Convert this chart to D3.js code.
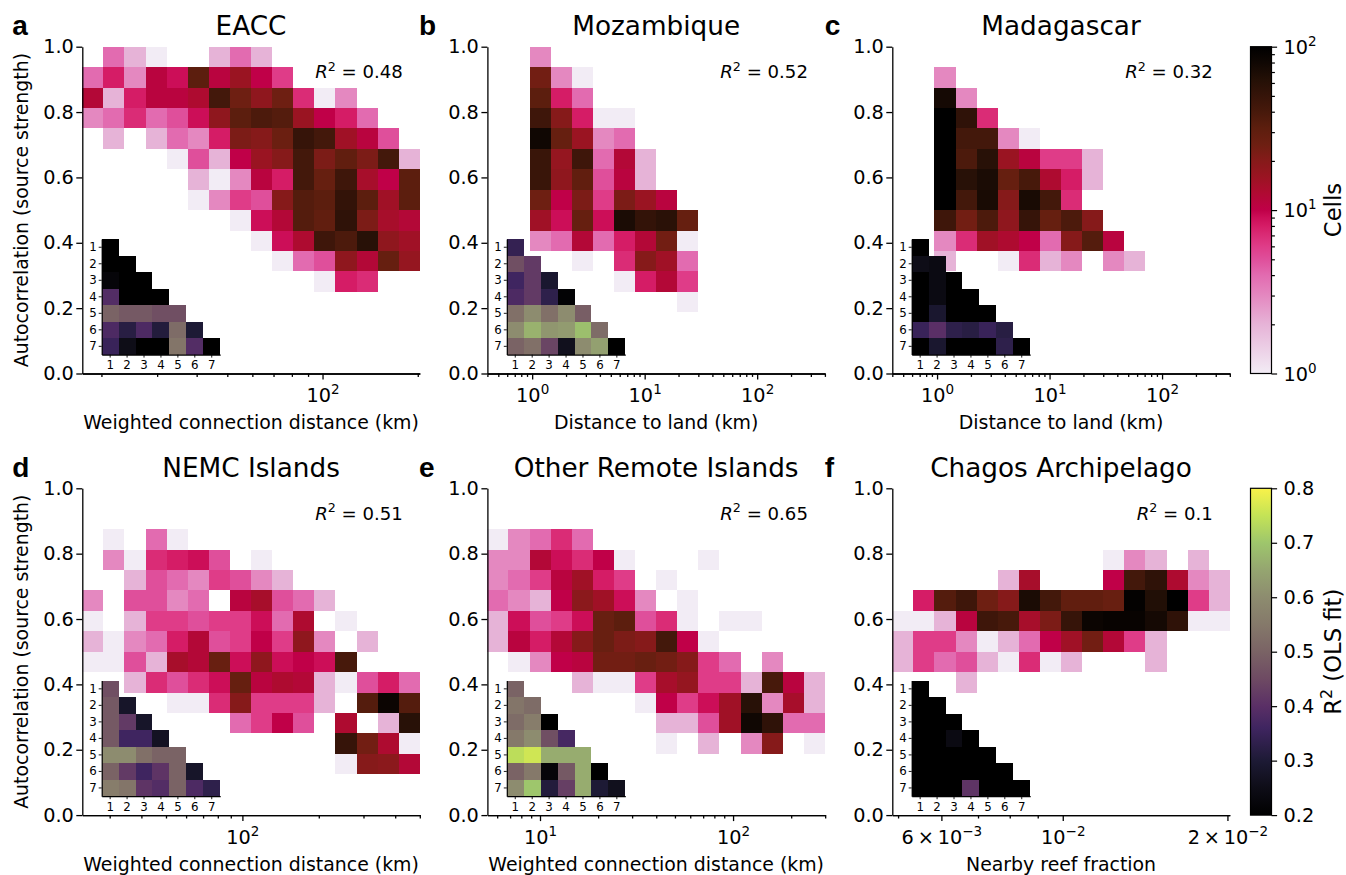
<!DOCTYPE html>
<html>
<head>
<meta charset="utf-8">
<script src="https://cdn.jsdelivr.net/npm/d3@7"></script>
<style>
html, body {margin: 0; padding: 0; background: #fff;}
svg {display: block;}
text {font-family: "DejaVu Sans", sans-serif; fill: #000;}
</style>
</head>
<body>
<script>
// cell counts per bin, top row (y = 1.0) first, 16 columns wide, 0 = empty
var eaccCells = [
[0,4,2,1,0,0,2,4,2],
[4,8,3,11,9,32,11,16,10,6],
[12,2,8,11,11,13,42,25,18,25,7,1,3],
[3,4,7,4,5,9,18,32,38,35,16,10,8,4],
[0,2,0,2,4,3,8,22,20,26,50,42,15,11,5],
[0,0,0,0,1,5,2,10,16,20,42,22,30,22,42,2],
[0,0,0,0,0,2,1,3,11,8,42,28,45,14,10,32],
[0,0,0,0,0,1,3,6,5,20,35,32,52,32,15,32],
[0,0,0,0,0,0,0,1,9,12,35,30,55,22,14,12],
[0,0,0,0,0,0,0,0,1,9,13,45,38,60,18,15],
[0,0,0,0,0,0,0,0,0,1,4,5,18,12,28,17],
[0,0,0,0,0,0,0,0,0,0,0,1,8,7]
];
var mozambiqueCells = [
[0,0,3],
[0,0,24,3,1],
[0,0,32,8,4],
[0,0,45,20,8,1,1],
[0,0,80,28,16,3,4],
[0,0,48,17,45,4,12,2],
[0,0,48,18,30,5,11,2],
[0,0,25,10,22,6,22,16,11],
[0,0,15,9,28,9,70,52,58,28],
[0,0,3,4,12,4,8,12,24,1],
[0,0,0,0,1,0,7,20,15,4],
[0,0,0,0,0,0,1,8,12,6],
[0,0,0,0,0,0,0,0,0,1]
];
var madagascarCells = [
[],
[0,0,3],
[0,0,75,3],
[0,0,100,55,7],
[0,0,100,42,42,3,1],
[0,0,100,38,60,16,11,6,6,2],
[0,0,100,60,70,28,40,13,8,2],
[0,0,100,42,72,20,72,42,7],
[0,0,45,24,38,18,50,28,38,20],
[0,0,3,7,15,13,10,4,20,35,11],
[0,0,2,0,0,1,7,2,3,0,3,2]
];
var nemcCells = [
[],
[],
[0,1,0,4,1],
[0,3,1,7,8,9,5,0,1],
[0,0,2,5,4,3,6,5,3,2],
[3,0,5,5,3,4,0,11,14,5,4,2],
[1,0,2,6,6,5,6,6,9,4,13,0,1],
[2,1,3,4,8,12,5,6,10,6,18,3,0,2],
[1,1,5,2,14,12,27,9,18,9,10,9,40],
[0,0,2,7,5,7,9,28,11,13,12,2,1,5,8,4],
[0,0,0,0,1,1,7,20,6,6,6,2,0,35,85,35],
[0,0,0,0,0,0,0,4,6,10,5,0,13,0,2,60],
[0,0,0,0,0,0,0,0,0,0,0,0,50,24,13,1],
[0,0,0,0,0,0,0,0,0,0,0,0,1,20,19,12]
];
var remoteCells = [
[],
[],
[1,3,4,7,4],
[3,3,12,9,7,10,1,0,0,0,1],
[3,4,6,11,15,8,6,0,1],
[4,3,2,10,19,15,9,3,0,1],
[2,9,5,6,9,27,32,5,7,1,0,1,1],
[2,11,8,12,20,27,22,20,42,10,1],
[0,1,3,10,11,24,24,27,24,20,6,4,0,3],
[0,0,0,0,2,1,1,6,14,17,6,6,2,40,11,2],
[0,0,0,0,0,0,0,1,10,6,9,15,60,3,14,2],
[0,0,0,0,0,0,0,0,2,2,5,15,80,55,4,4],
[0,0,0,0,0,0,0,0,1,0,2,0,3,20,0,1]
];
var chagosCells = [
[],
[],
[],
[0,0,0,0,0,0,0,0,0,0,1,3,2,0,2],
[0,0,0,0,0,2,14,0,0,0,10,42,55,13,3,2],
[0,8,35,45,25,20,70,42,30,30,27,95,65,100,6,2],
[1,1,2,11,45,40,14,22,50,85,90,90,75,55,1,1],
[2,6,6,3,1,2,4,10,15,24,12,6,2],
[2,6,4,5,2,1,7,1,2,0,0,0,2],
[0,0,0,2]
];

// R2 of the OLS fit for the inset triangles
var eaccR2 = [
[.2],
[.2,.2],
[.22,.2,.2],
[.39,.2,.2,.2],
[.5,.48,.48,.46,.46],
[.38,.32,.38,.31,.52,.3],
[.35,.25,.2,.2,.54,.39,.2]
];
var mozambiqueR2 = [
[.34],
[.46,.42],
[.36,.42,.29],
[.38,.42,.33,.21],
[.53,.6,.53,.6,.49],
[.6,.67,.62,.63,.69,.52],
[.5,.53,.44,.26,.6,.64,.2]
];
var madagascarR2 = [
[.2],
[.25,.24],
[.2,.24,.2],
[.2,.24,.2,.2],
[.2,.29,.2,.2,.2],
[.35,.4,.33,.32,.35,.32],
[.2,.29,.2,.2,.2,.33,.2]
];
var nemcR2 = [
[.46],
[.48,.28],
[.48,.42,.28],
[.48,.36,.36,.27],
[.6,.6,.53,.5,.5],
[.5,.42,.36,.41,.5,.28],
[.56,.54,.41,.39,.5,.38,.33]
];
var remoteR2 = [
[.5],
[.54,.52],
[.52,.56,.2],
[.55,.6,.46,.37],
[.74,.76,.66,.66,.66],
[.5,.55,.22,.48,.66,.2],
[.6,.7,.31,.43,.66,.3,.26]
];
var chagosR2 = [
[.2],
[.2,.2],
[.2,.2,.2],
[.2,.2,.24,.2],
[.2,.2,.2,.2,.2],
[.2,.2,.2,.2,.2,.2],
[.2,.2,.2,.41,.2,.2,.2]
];

var titles = ["EACC","Mozambique","Madagascar","NEMC Islands","Other Remote Islands","Chagos Archipelago"];
var letters = ["a","b","c","d","e","f"];
var fitR2 = ["0.48","0.52","0.32","0.51","0.65","0.1"];
var xLabels = ["Weighted connection distance (km)","Distance to land (km)","Distance to land (km)",
	"Weighted connection distance (km)","Weighted connection distance (km)","Nearby reef fraction"];
var xDomains = [[17.4,203],[0.4,400],[0.4,400],[23.4,500],[5.34,299],[0.00488,0.0202]];
var xMajor = [[100],[1,10,100],[1,10,100],[100],[10,100],[0.006,0.01,0.02]];
var xMinor = [
	[20,30,40,50,60,70,80,90,200],
	[.4,.5,.6,.7,.8,.9,2,3,4,5,6,7,8,9,20,30,40,50,60,70,80,90,200,300,400],
	[.4,.5,.6,.7,.8,.9,2,3,4,5,6,7,8,9,20,30,40,50,60,70,80,90,200,300,400],
	[30,40,50,60,70,80,90,200,300,400,500],
	[6,7,8,9,20,30,40,50,60,70,80,90,200,300],
	[0.005,0.007,0.008,0.009]
];
var xTickText = [
	[["10","2"]],
	[["10","0"],["10","1"],["10","2"]],
	[["10","0"],["10","1"],["10","2"]],
	[["10","2"]],
	[["10","1"],["10","2"]],
	[["6\u2009\u00d7\u200910","\u22123"],["10","\u22122"],["2\u2009\u00d7\u200910","\u22122"]]
];
var yTicks = [0,0.2,0.4,0.6,0.8,1.0];
var insetTicks = [1,2,3,4,5,6,7];
var allCells = [eaccCells,mozambiqueCells,madagascarCells,nemcCells,remoteCells,chagosCells];
var allR2 = [eaccR2,mozambiqueR2,madagascarR2,nemcR2,remoteR2,chagosR2];

// colour ramps
var countStops = [1,2,3,4,5,6,7,8,9,10,13,16,20,25,32,40,50,63,80,100];
var countColors = ["#f2ecf5","#e6b3d7","#e488c0","#e26bb0","#df4f9b","#df3c88","#da2c76","#d51c66","#cc0e58","#c00048",
	"#ae0b30","#9a1422","#861a1a","#6e1f12","#5c1e0e","#47190b","#361409","#241006","#100703","#000000"];
var r2Stops = [0.2,0.25,0.3,0.36,0.4,0.45,0.5,0.55,0.6,0.65,0.7,0.75,0.8];
var r2Colors = ["#000000","#0e0d17","#1d1a35","#3f2560","#5a2f66","#6e4a63","#7a6365","#85796a","#8d8c6f","#95a570","#9ec66c","#c4e356","#f9f24a"];

var countScale = d3.scaleLog().domain(countStops).range(countColors);
var r2Scale = d3.scaleLinear().domain(r2Stops).range(r2Colors);

var nBins = 16;
var plotW = 337.5, plotH = 326.8;
var lefts = [82.3,487.4,892.3];
var tops = [46.7,488.3];
var letterX = [-70,-68.5,-67.5];
var tickFont = 19.3, labelFont = 18.9;

var svg = d3.select("body").append("svg").attr("width",1346).attr("height",875);

function supLabel(sel, base, sup, fs) {
	sel.append("tspan").text(base);
	sel.append("tspan").attr("dy",-fs*0.42).attr("font-size",fs*0.7).text(sup);
}

function drawPanel(i) {
	var col = i % 3, row = Math.floor(i / 3);
	var g = svg.append("g").attr("transform","translate("+lefts[col]+","+tops[row]+")");
	var xScale = d3.scaleLog().domain(xDomains[i]).range([0,plotW]);
	var yScale = d3.scaleLinear().domain([0,1]).range([plotH,0]);
	var d0 = xDomains[i][0], ratio = xDomains[i][1] / xDomains[i][0];
	var edge = function(k) { return d0 * Math.pow(ratio, k / nBins); };

	var cells = [];
	allCells[i].forEach(function(rowVals, r) {
		rowVals.forEach(function(v, c) { if (v > 0) cells.push({r:r, c:c, v:v}); });
	});
	g.append("g").selectAll("rect").data(cells).enter().append("rect")
	.attr("x", function(d){return xScale(edge(d.c))})
	.attr("y", function(d){return yScale(1 - d.r / nBins)})
	.attr("width", function(d){return xScale(edge(d.c+1)) - xScale(edge(d.c))})
	.attr("height", function(d){return yScale(1 - (d.r+1) / nBins) - yScale(1 - d.r / nBins)})
	.attr("fill", function(d){return countScale(d.v)})
	.attr("shape-rendering","crispEdges");

	// axes
	var yAxis = g.append("g").call(d3.axisLeft(yScale).tickValues(yTicks).tickSize(6).tickSizeOuter(0).tickFormat(d3.format(".1f")));
	yAxis.selectAll("text").attr("font-size",tickFont).attr("x",-8.5).attr("fill","#000").style("font-family","DejaVu Sans");
	g.append("g").attr("transform","translate(0,"+plotH+")")
	.call(d3.axisBottom(xScale).tickValues(xMinor[i]).tickSize(3.4).tickSizeOuter(0).tickFormat(""));
	var xMaj = g.append("g").attr("transform","translate(0,"+plotH+")")
	.call(d3.axisBottom(xScale).tickValues(xMajor[i]).tickSize(6).tickSizeOuter(0).tickFormat(""));
	xMaj.selectAll(".tick text").remove();
	xMaj.selectAll(".tick").append("text")
	.attr("y",28.6).attr("text-anchor","middle").attr("font-size",tickFont)
	.each(function(d, k) { supLabel(d3.select(this), xTickText[i][k][0], xTickText[i][k][1], tickFont); });
	g.selectAll(".domain,.tick line").attr("stroke","#000").attr("stroke-width",1.3);

	// labels
	g.append("text").attr("x",plotW/2).attr("y",-11.5).attr("text-anchor","middle").attr("font-size",26.3).text(titles[i]);
	g.append("text").attr("x",plotW/2).attr("y",plotH+55.5).attr("text-anchor","middle").attr("font-size",labelFont).text(xLabels[i]);
	g.append("text").attr("x",letterX[col]).attr("y",-11.5)
	.style("font-family","Liberation Sans").style("font-weight","bold").attr("font-size",28).text(letters[i]);
	if (col == 0) {
		g.append("text").attr("transform","translate(-54.5,"+plotH/2+") rotate(-90)")
		.attr("text-anchor","middle").attr("font-size",labelFont).text("Autocorrelation (source strength)");
	}
	var fit = g.append("text").attr("x",plotW-17).attr("y",31.5).attr("text-anchor","end").attr("font-size",18.1);
	fit.append("tspan").attr("font-style","italic").text("R");
	fit.append("tspan").attr("dy",-7.6).attr("font-size",12.7).text("2");
	fit.append("tspan").attr("dy",7.6).text(" = " + fitR2[i]);

	drawInset(g, allR2[i]);
}

function drawInset(g, vals) {
	var inset = g.append("g").attr("transform","translate(19.4,192.3)");
	var ix = d3.scaleBand().domain(insetTicks).range([0,118.5]);
	var iy = d3.scaleBand().domain(insetTicks).range([0,115.6]);
	var cells = [];
	vals.forEach(function(rowVals, r) {
		rowVals.forEach(function(v, c) { cells.push({r:insetTicks[r], c:insetTicks[c], v:v}); });
	});
	inset.selectAll("rect").data(cells).enter().append("rect")
	.attr("x", function(d){return ix(d.c)})
	.attr("y", function(d){return iy(d.r)})
	.attr("width", ix.bandwidth())
	.attr("height", iy.bandwidth())
	.attr("fill", function(d){return r2Scale(d.v)})
	.attr("shape-rendering","crispEdges");
	var ax = inset.append("g").call(d3.axisLeft(iy).tickSize(3).tickSizeOuter(0));
	var bx = inset.append("g").attr("transform","translate(0,115.6)").call(d3.axisBottom(ix).tickSize(3).tickSizeOuter(0));
	inset.selectAll("text").attr("font-size",11.8).attr("fill","#262626").style("font-family","DejaVu Sans");
	ax.selectAll("text").attr("x",-5);
	bx.selectAll("text").attr("y",6);
	inset.selectAll(".domain").attr("stroke","#000").attr("stroke-width",1.2);
	inset.selectAll(".tick line").attr("stroke","#000").attr("stroke-width",0.9);
}

function drawColorbar(id, top, scale, stops, axisFn) {
	var cbX = 1250.5, cbW = 21;
	var g = svg.append("g").attr("transform","translate("+cbX+","+top+")");
	var grad = svg.append("defs").append("linearGradient").attr("id",id)
	.attr("x1",0).attr("y1",1).attr("x2",0).attr("y2",0);
	stops.forEach(function(s) {
		grad.append("stop").attr("offset",(plotH - scale.pos(s)) / plotH).attr("stop-color",scale.col(s));
	});
	g.append("rect").attr("width",cbW).attr("height",plotH).attr("fill","url(#"+id+")")
	.attr("stroke","#000").attr("stroke-width",1.2);
	axisFn(g.append("g").attr("transform","translate("+cbW+",0)"));
	g.selectAll(".domain").remove();
	g.selectAll(".tick line").attr("stroke","#000").attr("stroke-width",1.2);
	return g;
}

d3.range(6).forEach(drawPanel);

// counts colorbar
var cbCount = d3.scaleLog().domain([1,100]).range([plotH,0]);
var cbTop = drawColorbar("gradCount", tops[0], {pos:cbCount, col:countScale}, countStops, function(a) {
	a.call(d3.axisRight(cbCount).tickValues([2,3,4,5,6,7,8,9,20,30,40,50,60,70,80,90]).tickSize(3.4).tickFormat(""));
	var maj = a.append("g").call(d3.axisRight(cbCount).tickValues([1,10,100]).tickSize(5.6).tickFormat(""));
	maj.selectAll(".tick text").remove();
	maj.selectAll(".tick").append("text").attr("x",12).attr("y",6.8).attr("font-size",tickFont)
	.each(function(d) { supLabel(d3.select(this), "10", String(Math.round(Math.log10(d))), tickFont); });
});
cbTop.append("text").attr("transform","translate(90.5,"+plotH/2+") rotate(-90)")
.attr("text-anchor","middle").attr("font-size",22.7).text("Cells");

// R2 colorbar
var cbR2 = d3.scaleLinear().domain([0.2,0.8]).range([plotH,0]);
var cbBottom = drawColorbar("gradR2", tops[1], {pos:cbR2, col:r2Scale}, r2Stops, function(a) {
	a.call(d3.axisRight(cbR2).tickValues([0.2,0.3,0.4,0.5,0.6,0.7,0.8]).tickSize(5.6).tickFormat(d3.format(".1f")));
	a.selectAll("text").attr("font-size",tickFont).attr("x",12).attr("fill","#000").style("font-family","DejaVu Sans");
});
var r2Label = cbBottom.append("text").attr("transform","translate(90.5,"+plotH/2+") rotate(-90)")
.attr("text-anchor","middle").attr("font-size",22.7);
r2Label.append("tspan").text("R");
r2Label.append("tspan").attr("dy",-9.5).attr("font-size",15.9).text("2");
r2Label.append("tspan").attr("dy",9.5).text(" (OLS fit)");
</script>
</body>
</html>
